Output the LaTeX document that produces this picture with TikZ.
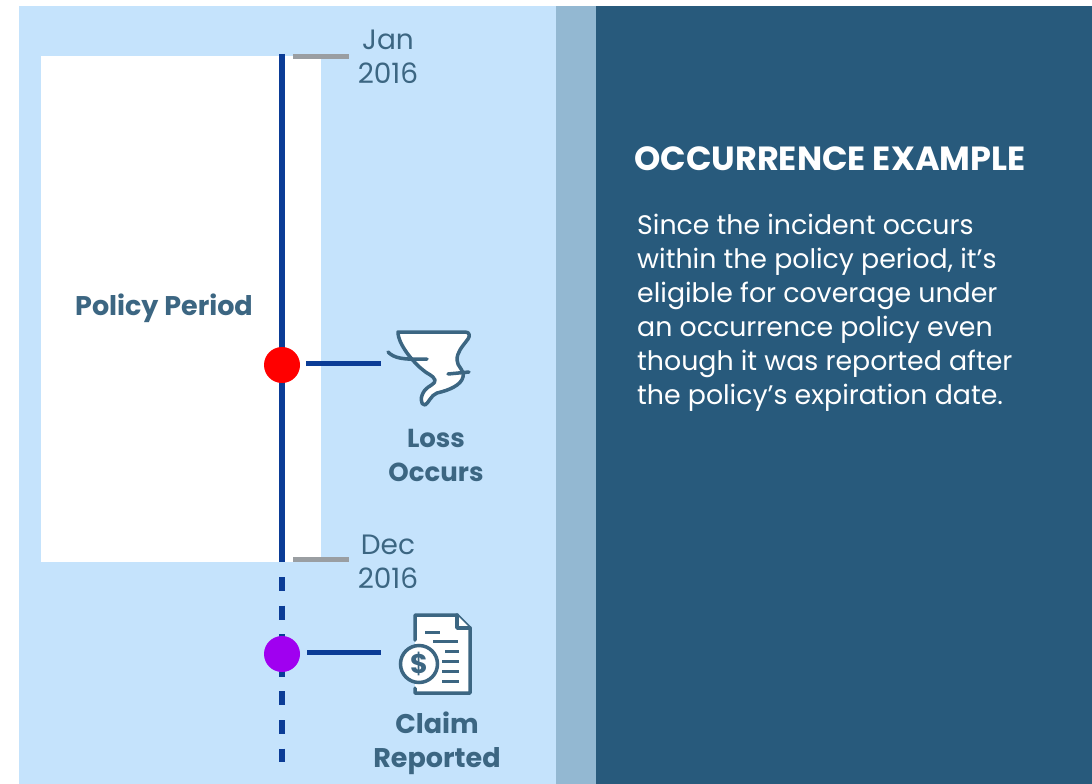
\documentclass[tikz,border=0pt]{standalone}
\usepackage{fontspec}
\setmainfont{Poppins}
\definecolor{panel}{HTML}{C5E3FC}
\definecolor{band}{HTML}{93B8D2}
\definecolor{dark}{HTML}{285A7C}
\definecolor{ink}{HTML}{3C6682}
\definecolor{axis}{HTML}{0B3C96}
\definecolor{tick}{HTML}{9A9EA2}
\tikzset{
  x=1pt,y=-1pt,
  txt/.style={inner sep=0pt,align=center,text=ink,font=\fontsize{28}{34}\selectfont},
  bold/.style={inner sep=0pt,align=center,text=ink,font=\fontsize{27}{34}\selectfont\bfseries},
  boldsmall/.style={inner sep=0pt,align=center,text=ink,font=\fontsize{26}{34}\selectfont\bfseries},
  axisline/.style={draw=axis,line width=6pt},
  tickline/.style={draw=tick,line width=5pt},
  linkline/.style={draw=axis,line width=5pt},
  dot/.style={circle,inner sep=0pt,minimum size=36pt},
  icon/.style={draw=ink,line width=3.5pt,line join=round,line cap=round},
}
\begin{document}
\begin{tikzpicture}
\useasboundingbox (0,0) rectangle (1092,784);
\fill[white] (0,0) rectangle (1092,784);
\fill[panel] (19,6) rectangle (556,784);
\fill[band] (556,6) rectangle (596,784);
\fill[dark] (596,6) rectangle (1092,784);
\fill[white] (41,56) rectangle (321,562);

\coordinate (top) at (282,54);
\coordinate (bot) at (282,562);
\coordinate (dashstart) at (282,577);
\coordinate (end) at (282,762);
\coordinate (lossc) at (282,365);
\coordinate (claimc) at (282,654);
\draw[axisline] (top) -- (bot);
\draw[axis,line width=6pt,dash pattern=on 14pt off 14.6pt] (dashstart) -- (end);
\node[dot,fill=red] (loss) at (lossc) {};
\node[dot,fill={rgb,255:red,160;green,0;blue,240}] (claim) at (claimc) {};

\coordinate (t1a) at (293,57); \coordinate (t1b) at (349,57);
\coordinate (t2a) at (293,559); \coordinate (t2b) at (349,559);
\draw[tickline] (t1a) -- (t1b);
\draw[tickline] (t2a) -- (t2b);

\node[txt] (jan) at (388,57) {Jan\\2016};
\node[txt] (dec) at (388,562) {Dec\\2016};
\node[bold] (pp) at (164,308) {Policy Period};
\node[boldsmall] (lo) at (436,455) {Loss\\Occurs};
\node[bold] (cr) at (437,743) {Claim\\Reported};

% tornado
\coordinate (lossa) at (306,363);
\coordinate (lossicon) at (381,363);
\draw[linkline] (lossa) -- (lossicon);
\draw[icon,fill=white] (398,332) -- (465,332) .. controls (470,332) and (470,336) .. (468,339)
  .. controls (462,347) and (457,352) .. (457,360)
  .. controls (457,367) and (465,370) .. (463,377)
  .. controls (461,385) and (450,390) .. (437,393)
  .. controls (431,395) and (428,404) .. (425,405)
  .. controls (420,405) and (420,396) .. (425,390)
  .. controls (428,386) and (436,384) .. (435,380)
  .. controls (433,375) and (427,374) .. (423,370)
  .. controls (415,364) and (398,345) .. (398,332) -- cycle;
\draw[icon,fill=none] (388,352) .. controls (394,358) and (402,360) .. (427,359);
\draw[icon,fill=none] (448,374) -- (469,372);

% claim icon
\coordinate (claima) at (307,652);
\coordinate (claimicon) at (381,652);
\draw[linkline] (claima) -- (claimicon);
\draw[icon,fill=white] (415,640) -- (415,615) -- (457,615) -- (470,628) -- (470,693) -- (415,693) -- (415,688);
\draw[icon,fill=white] (457,615) -- (457,628) -- (470,628);
\foreach \a/\b/\c in {425/440/632,433/458/641,445/459/651,442/459/661,442/459/671,442/459/681}
  \draw[ink,line width=3pt] (\a,\c) -- (\b,\c);
\node[circle,draw=ink,line width=3.5pt,fill=white,minimum size=37pt,inner sep=0pt,text=ink,font=\fontsize{27}{27}\selectfont\bfseries] (dollar) at (419,664) {\$};

\node[anchor=west,inner sep=0pt,text=white,font=\fontsize{33.5}{36}\selectfont\bfseries] (head) at (634,159) {OCCURRENCE EXAMPLE};
\node[anchor=north west,inner sep=0pt,align=left,text=white,font=\fontsize{26.8}{34}\selectfont] (body) at (637,214) {Since the incident occurs\\within the policy period, it’s\\eligible for coverage under\\an occurrence policy even\\though it was reported after\\the policy’s expiration date.};
\end{tikzpicture}
\end{document}
